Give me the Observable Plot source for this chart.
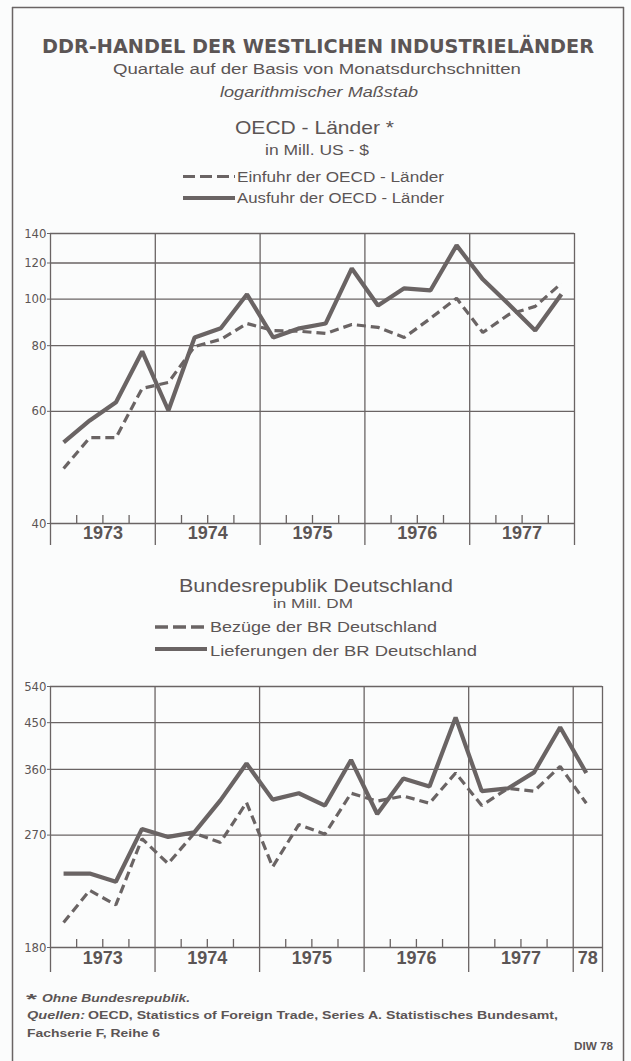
<!DOCTYPE html>
<html><head><meta charset="utf-8">
<script src="https://cdn.jsdelivr.net/npm/d3@7"></script>
<script src="https://cdn.jsdelivr.net/npm/@observablehq/plot@0.6"></script>
<style>
body{margin:0;background:#fbfcfc;}
#page{position:relative;width:631px;height:1061px;overflow:hidden;background:#fbfcfc;}
#page > svg, #page > div{position:absolute;left:0;}
</style></head><body><div id="page"></div>
<script>
// ---------- data (quarters, starting 1973 Q1) ----------
const years = [1973, 1974, 1975, 1976, 1977];
const oecdEinfuhr  = [48.1, 54.0, 54.0, 66.1, 67.8, 79.7, 82.4, 88.8, 85.9, 85.6, 84.7, 88.4, 87.2, 83.1, 91.0, 100.4, 85.1, 92.8, 96.5, 108.2];
const oecdAusfuhr  = [53.0, 57.8, 62.3, 77.9, 60.2, 83.1, 86.8, 102.4, 83.1, 86.8, 88.8, 116.7, 96.9, 105.5, 104.4, 131.5, 110.4, 97.4, 85.9, 102.4];
const brdBezuege     = [195, 218, 207, 266, 241, 272, 262, 310, 238, 282, 271, 323, 312, 319, 309, 354, 306, 330, 326, 365, 309];
const brdLieferungen = [232, 232, 225, 277, 268, 273, 313, 370, 314, 323, 306, 376, 295, 345, 333, 462, 326, 330, 355, 440, 354];
const oecdTicks = [40, 60, 80, 100, 120, 140];
const brdTicks  = [180, 270, 360, 450, 540];
const oecdYearLabels = ["1973", "1974", "1975", "1976", "1977"];
const brdYearLabels  = ["1973", "1974", "1975", "1976", "1977", "78"];
// paper offsets of the drafted "logarithmic" grid
const oecdOffset = 20, brdOffset = 90;

const INK = "#6a6464", TXT = "#5b5555";
const FONT = "'Liberation Sans', Arial, sans-serif";
const NARROW = "'Liberation Sans Narrow', 'DejaVu Sans Condensed', 'Liberation Sans', sans-serif";
const page = document.getElementById("page");

const qx = i => 1973 + (i + 0.5) / 4;
const toRows = arr => arr.map((v, i) => ({x: qx(i), v}));
const quarterTicks = years.flatMap(y => [y + 0.25, y + 0.5, y + 0.75]);

function chart({top, height, mt, mb, mr, xMax, ticks, offset, dashed, solid, labels, edges, labelDy, edgeExt}) {
  const innerH = height - mt - mb;
  const p = Plot.plot({
    width: 631, height, marginTop: mt, marginBottom: mb, marginLeft: 50, marginRight: mr,
    x: {domain: [1973, xMax], axis: null},
    y: {type: "log", domain: [ticks[0] - offset, ticks[ticks.length - 1] - offset], axis: null},
    style: {background: "transparent", color: TXT, fontFamily: NARROW},
    marks: [
      Plot.ruleY(ticks, {y: d => d - offset, stroke: INK, strokeWidth: 1.3}),
      Plot.ruleX(edges, {x: d => d, stroke: INK, strokeWidth: 1.3, insetBottom: -edgeExt}),
      Plot.ruleX(quarterTicks, {x: d => d, stroke: INK, strokeWidth: 1.3, insetTop: innerH - 8}),
      Plot.axisY(ticks.map(d => d - offset), {tickFormat: d => String(Math.round(d + offset)), tickSize: 3, tickPadding: 1, fontSize: 13, stroke: INK}),
      Plot.text(labels, {x: (d, i) => Math.min(1973 + i + 0.5, (1973 + i + xMax) / 2), frameAnchor: "bottom", dy: labelDy, text: d => d,
        fontSize: 18, fontWeight: "bold", fontFamily: FONT, fill: TXT}),
      Plot.line(toRows(dashed), {x: "x", y: d => d.v - offset, stroke: INK, strokeWidth: 3.2, strokeDasharray: "9,5", strokeLinecap: "butt", strokeLinejoin: "miter"}),
      Plot.line(toRows(solid), {x: "x", y: d => d.v - offset, stroke: INK, strokeWidth: 4.2, strokeLinecap: "butt", strokeLinejoin: "miter"})
    ]
  });
  p.style.top = top + "px";
  page.appendChild(p);
}

chart({top: 220, height: 340, mt: 13, mb: 37, mr: 57, xMax: 1978, ticks: oecdTicks, offset: oecdOffset,
  dashed: oecdEinfuhr, solid: oecdAusfuhr, labels: oecdYearLabels, edges: [...years, 1978], labelDy: 15, edgeExt: 22});
chart({top: 670, height: 320, mt: 16, mb: 43, mr: 29, xMax: 1978.28, ticks: brdTicks, offset: brdOffset,
  dashed: brdBezuege, solid: brdLieferungen, labels: brdYearLabels, edges: [...years, 1978, 1978.28], labelDy: 16, edgeExt: 25});

// ---------- overlay: frame, titles, legends, notes ----------
const texts = [
  {t: "DDR-HANDEL DER WESTLICHEN INDUSTRIELÄNDER", x: 42, y: 53, w: 552, s: 19, wt: "bold", f: "'DejaVu Sans', sans-serif"},
  {t: "Quartale auf der Basis von Monatsdurchschnitten", x: 113, y: 74, w: 408, s: 14},
  {t: "logarithmischer Maßstab", x: 220, y: 97, w: 198, s: 14, st: "italic"},
  {t: "OECD - Länder *", x: 235, y: 134, w: 159, s: 19},
  {t: "in Mill. US - $", x: 265, y: 155, w: 104, s: 14},
  {t: "Einfuhr der OECD - Länder", x: 237, y: 182, w: 207, s: 14},
  {t: "Ausfuhr der OECD - Länder", x: 237, y: 203, w: 207, s: 14},
  {t: "Bundesrepublik Deutschland", x: 179, y: 592, w: 274, s: 19},
  {t: "in Mill. DM", x: 273, y: 608, w: 80, s: 13},
  {t: "Bezüge der BR Deutschland", x: 210, y: 632, w: 227, s: 15},
  {t: "Lieferungen der BR Deutschland", x: 210, y: 656, w: 267, s: 15},
  {t: "*", x: 26, y: 1004, w: 11, s: 15, wt: "bold"},
  {t: "Ohne Bundesrepublik.", x: 42, y: 1002, w: 148, s: 11, wt: "bold", st: "italic"},
  {t: "Quellen:", x: 27, y: 1019, w: 58, s: 11, st: "italic", wt: "bold"},
  {t: "OECD, Statistics of Foreign Trade, Series A. Statistisches Bundesamt,", x: 88, y: 1019, w: 470, s: 11, wt: "bold"},
  {t: "Fachserie F, Reihe 6", x: 27, y: 1037, w: 133, s: 11, wt: "bold"},
  {t: "DIW 78", x: 574, y: 1050, w: 39, s: 11, wt: "bold"}
];
const esc = s => s.replace(/&/g, "&amp;").replace(/</g, "&lt;");
let svg = `<svg width="631" height="1061" xmlns="http://www.w3.org/2000/svg" style="top:0;pointer-events:none">
<g stroke="${INK}" stroke-width="1.5" fill="none">
<line x1="12" y1="7.5" x2="624" y2="7.5"/><line x1="12.5" y1="7" x2="12.5" y2="1061"/><line x1="623.5" y1="7" x2="623.5" y2="1061"/>
</g>
<g stroke="${INK}" fill="none">
<line x1="183" y1="176.5" x2="235" y2="176.5" stroke-width="3.2" stroke-dasharray="12,5"/>
<line x1="183" y1="198" x2="235" y2="198" stroke-width="4"/>
<line x1="155" y1="627" x2="207" y2="627" stroke-width="3.4" stroke-dasharray="13,5"/>
<line x1="155" y1="649" x2="207" y2="649" stroke-width="4"/>
</g>`;
for (const d of texts) {
  svg += `<text x="${d.x}" y="${d.y}" textLength="${d.w}" lengthAdjust="spacingAndGlyphs" fill="${TXT}" font-family="${d.f || FONT}" font-size="${d.s}" font-weight="${d.wt || "normal"}" font-style="${d.st || "normal"}">${esc(d.t)}</text>`;
}
svg += `</svg>`;
page.insertAdjacentHTML("beforeend", svg);
</script>
</body></html>
